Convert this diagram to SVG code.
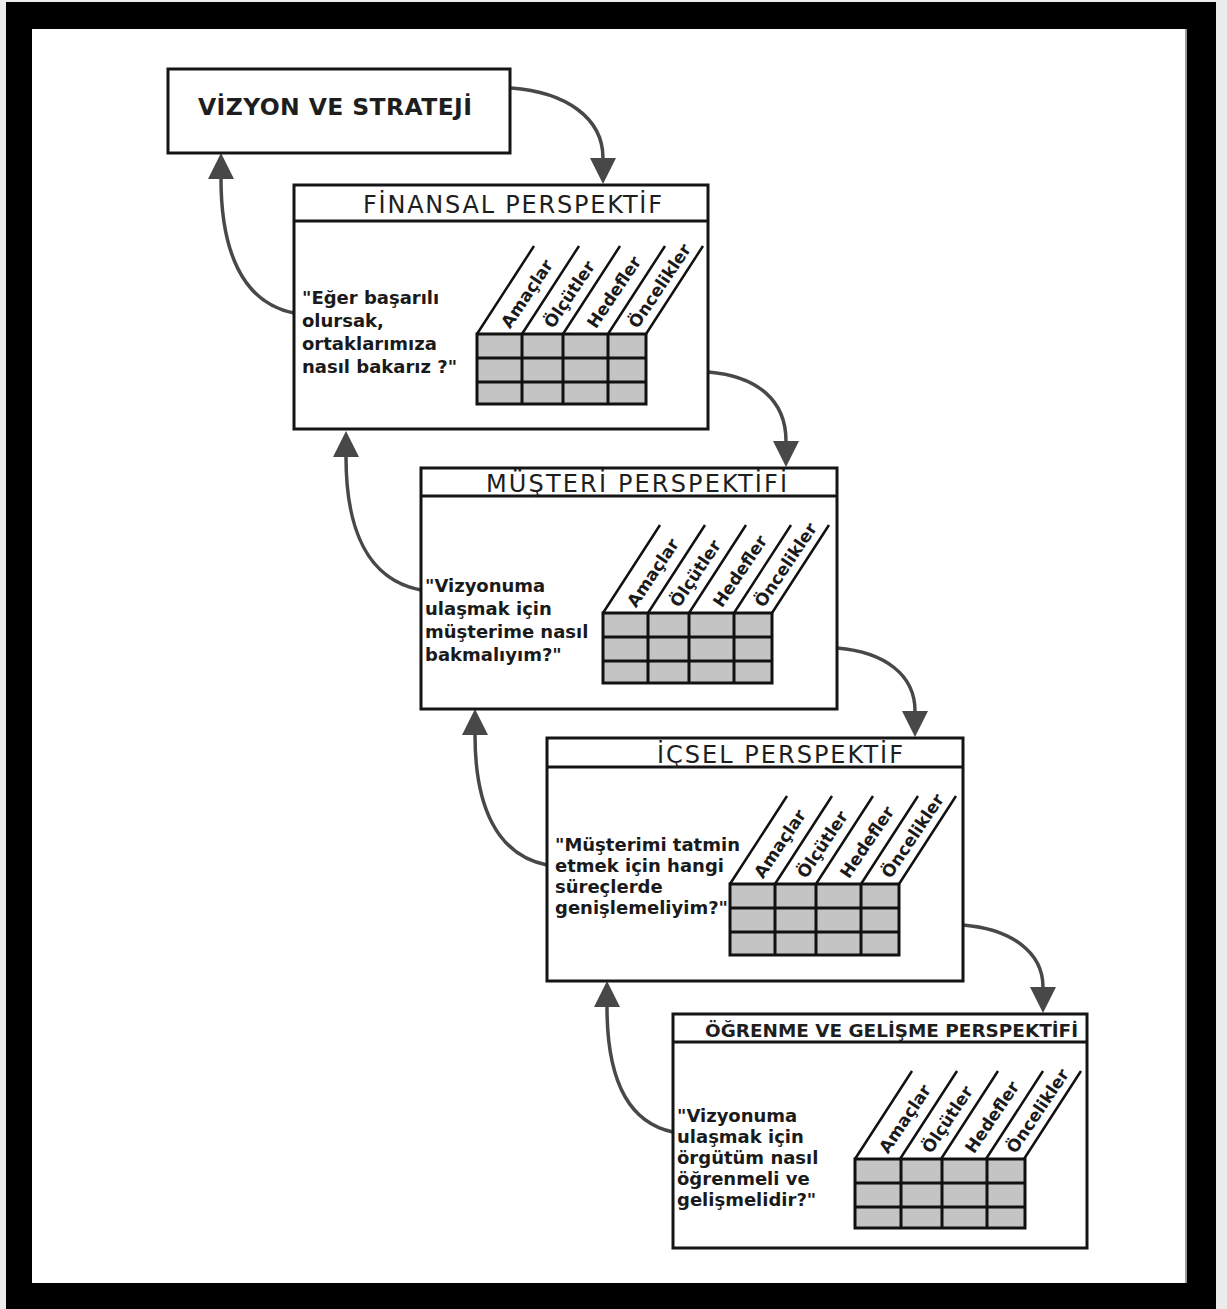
<svg xmlns="http://www.w3.org/2000/svg" width="1227" height="1309" viewBox="0 0 1227 1309">
  <style>
    .box { fill: #ffffff; stroke: #151515; stroke-width: 3; }
    .rule { stroke: #151515; stroke-width: 3; }
    .head { font-family: "DejaVu Sans", "Liberation Sans", sans-serif; font-size: 24px; fill: #1e1e1e; }
    .headb { font-family: "DejaVu Sans", "Liberation Sans", sans-serif; font-weight: bold; fill: #1e1e1e; }
    .q { font-family: "DejaVu Sans", "Liberation Sans", sans-serif; font-weight: bold; font-size: 18px; fill: #1a1a1a; }
    .cells { fill: #c4c4c4; stroke: #111111; stroke-width: 3; }
    .grid { stroke: #111111; stroke-width: 3; }
    .slant { stroke: #111111; stroke-width: 2.5; fill: none; }
    .lbl { font-family: "DejaVu Sans", "Liberation Sans", sans-serif; font-weight: bold; font-size: 17px; fill: #1a1a1a; }
    .conn { fill: none; stroke: #484848; stroke-width: 3.5; }
  </style>
  <defs>
    <marker id="arrow" viewBox="0 0 28 26" refX="0" refY="13" markerWidth="28" markerHeight="26" markerUnits="userSpaceOnUse" orient="auto">
      <path d="M0,0 L26,13 L0,26 z" fill="#484848"/>
    </marker>
  </defs>

  <!-- page and black frame -->
  <rect x="0" y="0" width="1227" height="1309" fill="#ececec"/>
  <path d="M6,2 H1216 V1309 H6 Z M32,29 V1283 H1187 V29 Z" fill="#000000" fill-rule="evenodd"/>
  <rect x="32" y="29" width="1155" height="1254" fill="#ffffff"/>
  <line x1="1186" y1="29" x2="1186" y2="1283" stroke="#9a9a9a" stroke-width="2"/>

  <!-- curved connectors between the levels -->
  <g id="connectors">
    <path class="conn" d="M511,88 C566,92 603,118 603,158" marker-end="url(#arrow)"/>
    <path class="conn" d="M294,313 C242,303 221,250 221,179" marker-end="url(#arrow)"/>
    <path class="conn" d="M708,372 C757,376 786,400 786,441" marker-end="url(#arrow)"/>
    <path class="conn" d="M421,590 C368,580 346,530 346,457" marker-end="url(#arrow)"/>
    <path class="conn" d="M837,648 C885,652 915,675 915,711" marker-end="url(#arrow)"/>
    <path class="conn" d="M547,865 C496,855 475,805 475,735" marker-end="url(#arrow)"/>
    <path class="conn" d="M963,925 C1011,929 1043,952 1043,987" marker-end="url(#arrow)"/>
    <path class="conn" d="M673,1132 C625,1122 607,1075 607,1007" marker-end="url(#arrow)"/>
  </g>

  <!-- vision and strategy -->
  <g id="vision">
    <rect class="box" x="168" y="69" width="342" height="84"/>
    <text class="headb" x="198" y="115" font-size="23.5" textLength="274" lengthAdjust="spacing">VİZYON VE STRATEJİ</text>
  </g>

  <!-- financial perspective -->
  <g id="financial">
    <rect class="box" x="294" y="185" width="414" height="244"/>
    <line class="rule" x1="294" y1="221" x2="708" y2="221"/>
    <text class="head" x="363" y="213" textLength="299" lengthAdjust="spacing">FİNANSAL PERSPEKTİF</text>
    <text class="q" x="302" y="304">"Eğer başarılı</text>
    <text class="q" x="302" y="327">olursak,</text>
    <text class="q" x="302" y="350">ortaklarımıza</text>
    <text class="q" x="302" y="373">nasıl bakarız ?"</text>
    <g transform="translate(477,334)">
      <path class="slant" d="M0,0 l57,-88 M45,0 l57,-88 M86,0 l57,-88 M131,0 l57,-88 M169,0 l57,-88"/>
      <rect class="cells" x="0" y="0" width="169" height="70"/>
      <path class="grid" d="M0,24 H169 M0,48 H169 M45,0 V70 M86,0 V70 M131,0 V70"/>
      <text class="lbl" transform="translate(28,-8) rotate(-56)" dy="0.36em">Amaçlar</text>
      <text class="lbl" transform="translate(71,-8) rotate(-56)" dy="0.36em">Ölçütler</text>
      <text class="lbl" transform="translate(114,-8) rotate(-56)" dy="0.36em">Hedefler</text>
      <text class="lbl" transform="translate(155.5,-8) rotate(-56)" dy="0.36em">Öncelikler</text>
    </g>
  </g>

  <!-- customer perspective -->
  <g id="customer">
    <rect class="box" x="421" y="468" width="416" height="241"/>
    <line class="rule" x1="421" y1="496" x2="837" y2="496"/>
    <text class="head" x="486" y="492" textLength="301" lengthAdjust="spacing">MÜŞTERİ PERSPEKTİFİ</text>
    <text class="q" x="425" y="592">"Vizyonuma</text>
    <text class="q" x="425" y="615">ulaşmak için</text>
    <text class="q" x="425" y="638">müşterime nasıl</text>
    <text class="q" x="425" y="661">bakmalıyım?"</text>
    <g transform="translate(603,613)">
      <path class="slant" d="M0,0 l57,-88 M45,0 l57,-88 M86,0 l57,-88 M131,0 l57,-88 M169,0 l57,-88"/>
      <rect class="cells" x="0" y="0" width="169" height="70"/>
      <path class="grid" d="M0,24 H169 M0,48 H169 M45,0 V70 M86,0 V70 M131,0 V70"/>
      <text class="lbl" transform="translate(28,-8) rotate(-56)" dy="0.36em">Amaçlar</text>
      <text class="lbl" transform="translate(71,-8) rotate(-56)" dy="0.36em">Ölçütler</text>
      <text class="lbl" transform="translate(114,-8) rotate(-56)" dy="0.36em">Hedefler</text>
      <text class="lbl" transform="translate(155.5,-8) rotate(-56)" dy="0.36em">Öncelikler</text>
    </g>
  </g>

  <!-- internal process perspective -->
  <g id="internal">
    <rect class="box" x="547" y="738" width="416" height="243"/>
    <line class="rule" x1="547" y1="767" x2="963" y2="767"/>
    <text class="head" x="657" y="763" textLength="246" lengthAdjust="spacing">İÇSEL PERSPEKTİF</text>
    <text class="q" x="555" y="851" font-size="17.5">"Müşterimi tatmin</text>
    <text class="q" x="555" y="872" font-size="17.5">etmek için hangi</text>
    <text class="q" x="555" y="893" font-size="17.5">süreçlerde</text>
    <text class="q" x="555" y="914" font-size="17.5">genişlemeliyim?"</text>
    <g transform="translate(730,884)">
      <path class="slant" d="M0,0 l57,-88 M45,0 l57,-88 M86,0 l57,-88 M131,0 l57,-88 M169,0 l57,-88"/>
      <rect class="cells" x="0" y="0" width="169" height="71"/>
      <path class="grid" d="M0,24 H169 M0,48 H169 M45,0 V71 M86,0 V71 M131,0 V71"/>
      <text class="lbl" transform="translate(28,-8) rotate(-56)" dy="0.36em">Amaçlar</text>
      <text class="lbl" transform="translate(71,-8) rotate(-56)" dy="0.36em">Ölçütler</text>
      <text class="lbl" transform="translate(114,-8) rotate(-56)" dy="0.36em">Hedefler</text>
      <text class="lbl" transform="translate(155.5,-8) rotate(-56)" dy="0.36em">Öncelikler</text>
    </g>
  </g>

  <!-- learning and growth perspective -->
  <g id="learning">
    <rect class="box" x="673" y="1014" width="414" height="234"/>
    <line class="rule" x1="673" y1="1042" x2="1087" y2="1042"/>
    <text class="headb" x="705" y="1037" font-size="18.5" textLength="373" lengthAdjust="spacingAndGlyphs">ÖĞRENME VE GELİŞME PERSPEKTİFİ</text>
    <text class="q" x="677" y="1122" font-size="17">"Vizyonuma</text>
    <text class="q" x="677" y="1143" font-size="17">ulaşmak için</text>
    <text class="q" x="677" y="1164" font-size="17">örgütüm nasıl</text>
    <text class="q" x="677" y="1185" font-size="17">öğrenmeli ve</text>
    <text class="q" x="677" y="1206" font-size="17">gelişmelidir?"</text>
    <g transform="translate(855,1159)">
      <path class="slant" d="M0,0 l57,-88 M45,0 l57,-88 M86,0 l57,-88 M131,0 l57,-88 M169,0 l57,-88"/>
      <rect class="cells" x="0" y="0" width="170" height="69"/>
      <path class="grid" d="M0,24 H170 M0,48 H170 M46,0 V69 M87,0 V69 M132,0 V69"/>
      <text class="lbl" transform="translate(28,-8) rotate(-56)" dy="0.36em">Amaçlar</text>
      <text class="lbl" transform="translate(71,-8) rotate(-56)" dy="0.36em">Ölçütler</text>
      <text class="lbl" transform="translate(114,-8) rotate(-56)" dy="0.36em">Hedefler</text>
      <text class="lbl" transform="translate(155.5,-8) rotate(-56)" dy="0.36em">Öncelikler</text>
    </g>
  </g>
</svg>
